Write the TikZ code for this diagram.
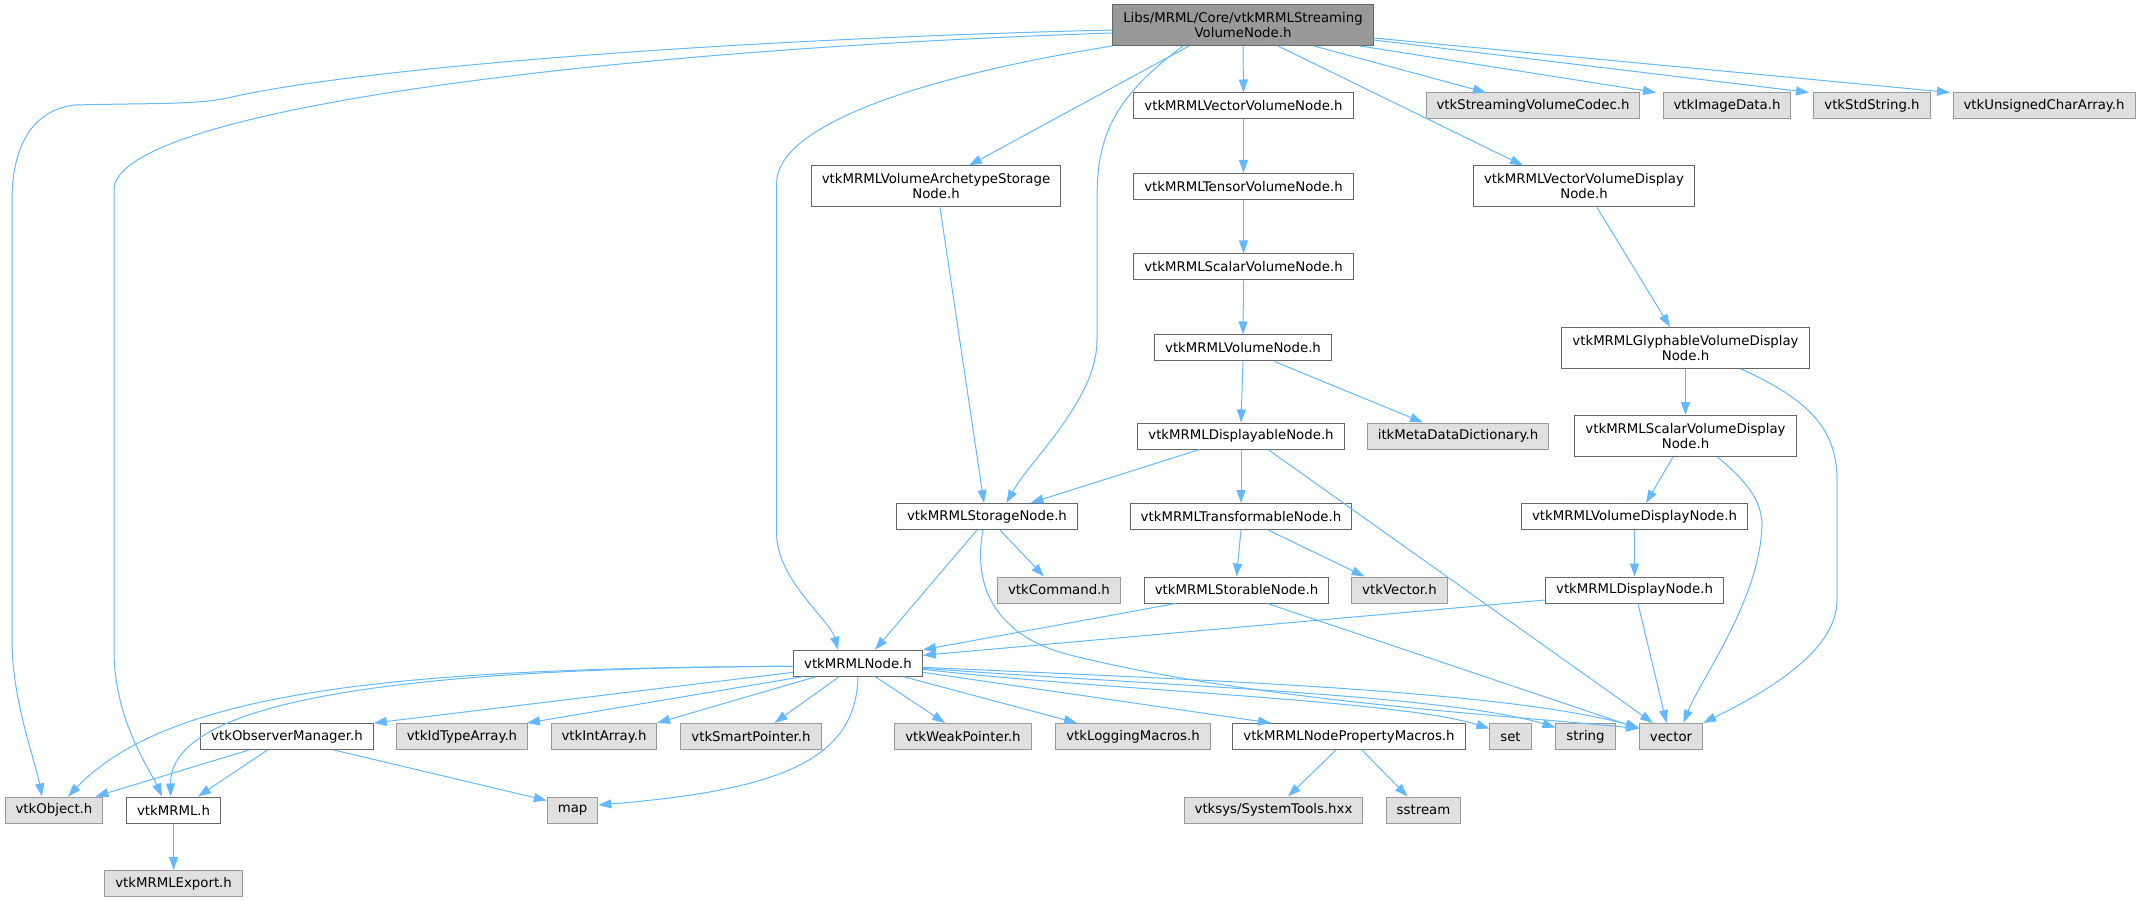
\documentclass[tikz,border=0pt]{standalone}
\usepackage{fontspec}
\setmainfont{DejaVu Sans}
\usetikzlibrary{arrows.meta}
\definecolor{edgeblue}{HTML}{63B8FF}
\definecolor{boxline}{HTML}{666666}
\definecolor{extline}{HTML}{999999}
\definecolor{extfill}{HTML}{E0E0E0}
\definecolor{rootfill}{HTML}{999999}

\begin{document}
\begin{tikzpicture}[x=1pt, y=-1pt,
        hdr/.style={draw=boxline, fill=white, line width=1pt, inner xsep=10.5pt, inner ysep=0pt, minimum height=26pt, font=\fontsize{13.3}{15}\selectfont},
        ext/.style={hdr, draw=extline, fill=extfill},
        two/.style={align=center, minimum height=41pt},
        dep/.style={draw=edgeblue, line width=1pt, -{Triangle[length=13pt, width=9pt]}}]
        \useasboundingbox (0,0) rectangle (2137,901);

        \node [hdr, two, fill=rootfill] (root) at (1243,25) {Libs/MRML/Core/vtkMRMLStreaming\\VolumeNode.h};
        \node [hdr] (vecvol) at (1243.5,106) {vtkMRMLVectorVolumeNode.h};
        \node [ext] (codec) at (1533,106) {vtkStreamingVolumeCodec.h};
        \node [ext] (imgdata) at (1727,106) {vtkImageData.h};
        \node [ext] (stdstr) at (1872,106) {vtkStdString.h};
        \node [ext] (ucarr) at (2044,106) {vtkUnsignedCharArray.h};
        \node [hdr] (tensor) at (1243.5,186.5) {vtkMRMLTensorVolumeNode.h};
        \node [hdr, two] (vecdisp) at (1584,186.5) {vtkMRMLVectorVolumeDisplay\\Node.h};
        \node [hdr, two] (archstor) at (936,186.5) {vtkMRMLVolumeArchetypeStorage\\Node.h};
        \node [hdr] (scalvol) at (1243.5,267) {vtkMRMLScalarVolumeNode.h};
        \node [hdr] (volnode) at (1243,348) {vtkMRMLVolumeNode.h};
        \node [hdr, two] (glyph) at (1685.5,348) {vtkMRMLGlyphableVolumeDisplay\\Node.h};
        \node [hdr] (displ) at (1241,436) {vtkMRMLDisplayableNode.h};
        \node [ext] (itkmeta) at (1458,436) {itkMetaDataDictionary.h};
        \node [hdr, two] (scaldisp) at (1685.5,436) {vtkMRMLScalarVolumeDisplay\\Node.h};
        \node [hdr] (storage) at (987,516.5) {vtkMRMLStorageNode.h};
        \node [hdr] (transf) at (1241,516.5) {vtkMRMLTransformableNode.h};
        \node [hdr] (voldisp) at (1634.5,516.5) {vtkMRMLVolumeDisplayNode.h};
        \node [ext] (command) at (1059,590) {vtkCommand.h};
        \node [hdr] (storable) at (1236.5,590) {vtkMRMLStorableNode.h};
        \node [ext] (vec3) at (1399.5,590) {vtkVector.h};
        \node [hdr] (dispnode) at (1634.5,590) {vtkMRMLDisplayNode.h};
        \node [hdr] (mrmlnode) at (858,663.3) {vtkMRMLNode.h};
        \node [hdr] (obsman) at (287,736.5) {vtkObserverManager.h};
        \node [ext] (idtype) at (462,736.5) {vtkIdTypeArray.h};
        \node [ext] (intarr) at (604,736.5) {vtkIntArray.h};
        \node [ext] (smartptr) at (751,736.5) {vtkSmartPointer.h};
        \node [ext] (weakptr) at (963,736.5) {vtkWeakPointer.h};
        \node [ext] (logging) at (1133,736.5) {vtkLoggingMacros.h};
        \node [hdr] (propmac) at (1349,736.5) {vtkMRMLNodePropertyMacros.h};
        \node [ext] (set) at (1510.5,736.5) {set};
        \node [ext] (string) at (1585.5,736.5) {string};
        \node [ext] (vector) at (1671,736.5) {vector};
        \node [ext] (vtkobj) at (54,810) {vtkObject.h};
        \node [hdr] (mrmlh) at (173.6,810) {vtkMRML.h};
        \node [ext] (map) at (572.6,810) {map};
        \node [ext] (systools) at (1273.5,810) {vtksys/SystemTools.hxx};
        \node [ext] (sstream) at (1423.5,810) {sstream};
        \node [ext] (export) at (173.6,883.5) {vtkMRMLExport.h};

        \foreach \a/\sa/\b/\sb in {root/0/vecvol/0, root/35/vecdisp/-61, root/71/codec/-47, root/117/imgdata/-71,
            root/-54/archstor/33, vecvol/0/tensor/0, tensor/0/scalvol/0, scalvol/0/volnode/0, volnode/0/displ/0,
            volnode/31.5/itkmeta/-35, vecdisp/13/glyph/-15.5, glyph/0/scaldisp/0, scaldisp/-12.5/voldisp/11.5,
            voldisp/0/dispnode/0, dispnode/3.5/vector/-4.5, displ/0/transf/0, displ/-41.5/storage/43.5,
            displ/27/vector/-18, transf/0/storable/0, transf/27/vec3/-35, archstor/4/storage/-3,
            storage/-10/mrmlnode/17, storage/13/command/-15, mrmlnode/-56/idtype/65, mrmlnode/-42.5/intarr/53,
            mrmlnode/-19/smartptr/23.5, mrmlnode/17.5/weakptr/-18, mrmlnode/46/logging/-56,
            obsman/-38/vtkobj/41.5, obsman/-19.5/mrmlh/24.4, mrmlh/0/export/0,
            propmac/-13/systools/14.5, propmac/13/sstream/-16}
        {
            \draw [dep] ([xshift=\sa pt]\a.south) -- ([xshift=\sb pt]\b.north);
        }

        \draw [dep] ([yshift=-15pt]root.east) -- ([xshift=-63pt]stdstr.north);
        \draw [dep] ([yshift=-13pt]root.east) -- ([xshift=-94pt]ucarr.north);
        \draw [dep] ([yshift=-5pt]root.west) .. controls (700,40) and (350,70) .. (232,97) .. controls (200,105) and (150,103) .. (75,105) .. controls (30,110) and (12,150) .. (12,200) -- (12,640) .. controls (12,700) and (35,760) .. ([xshift=-12pt]vtkobj.north);
        \draw [dep] ([yshift=-8pt]root.west) .. controls (600,50) and (114,110) .. (114,190) -- (114,650) .. controls (114,720) and (150,770) .. ([xshift=-11.6pt]mrmlh.north);
        \draw [dep] (root.south west) .. controls (900,80) and (776.6,130) .. (776.6,183) -- (776.6,533) .. controls (776.6,580) and (830,620) .. ([xshift=-20pt]mrmlnode.north);
        \draw [dep] ([xshift=-60pt]root.south) .. controls (1110,100) and (1097,140) .. (1097,200) -- (1097,340) .. controls (1097,400) and (1030,460) .. ([xshift=19.5pt]storage.north);

        \draw [dep] ([yshift=-3pt]mrmlnode.west) .. controls (400,668) and (170,690) .. ([xshift=14pt]vtkobj.north);
        \draw [dep] ([yshift=-3pt]mrmlnode.west) .. controls (400,668) and (170,700) .. ([xshift=-3pt]mrmlh.north);
        \draw [dep] ([yshift=-9pt]mrmlnode.west) -- (obsman.north east);
        \draw [dep] (mrmlnode.south) .. controls (856,760) and (780,790) .. ([yshift=5pt]map.east);
        \draw [dep] ([xshift=47pt]obsman.south) -- ([yshift=-4pt]map.north west);
        \draw [dep] ([yshift=-9pt]mrmlnode.east) -- ([xshift=-78pt]propmac.north);
        \draw [dep] ([yshift=-6pt]mrmlnode.east) .. controls (1100,690) and (1400,700) .. ([yshift=8pt]set.west);
        \draw [dep] ([yshift=-5pt]mrmlnode.east) .. controls (1150,685) and (1450,695) .. ([yshift=9pt]string.west);
        \draw [dep] ([yshift=-4pt]mrmlnode.east) .. controls (1200,680) and (1500,690) .. ([yshift=9pt]vector.west);

        \draw [dep] ([xshift=55.5pt]glyph.south) .. controls (1810,400) and (1837,430) .. (1837,480) -- (1837,600) .. controls (1837,650) and (1770,690) .. (vector.north east);
        \draw [dep] ([xshift=32pt]scaldisp.south) .. controls (1745,480) and (1762,500) .. (1762,525) .. controls (1760,600) and (1700,680) .. ([xshift=12.5pt]vector.north);
        \draw [dep] ([yshift=-10pt]dispnode.west) -- ([yshift=8pt]mrmlnode.east);
        \draw [dep] ([xshift=-61pt]storable.south) -- (mrmlnode.north east);
        \draw [dep] ([xshift=31pt]storable.south) -- ([yshift=8pt]vector.west);
        \draw [dep] ([xshift=-4pt]storage.south) .. controls (970,600) and (1010,640) .. (1070,655) .. controls (1250,700) and (1500,715) .. ([yshift=8pt]vector.west);
    \end{tikzpicture}
\end{document}
